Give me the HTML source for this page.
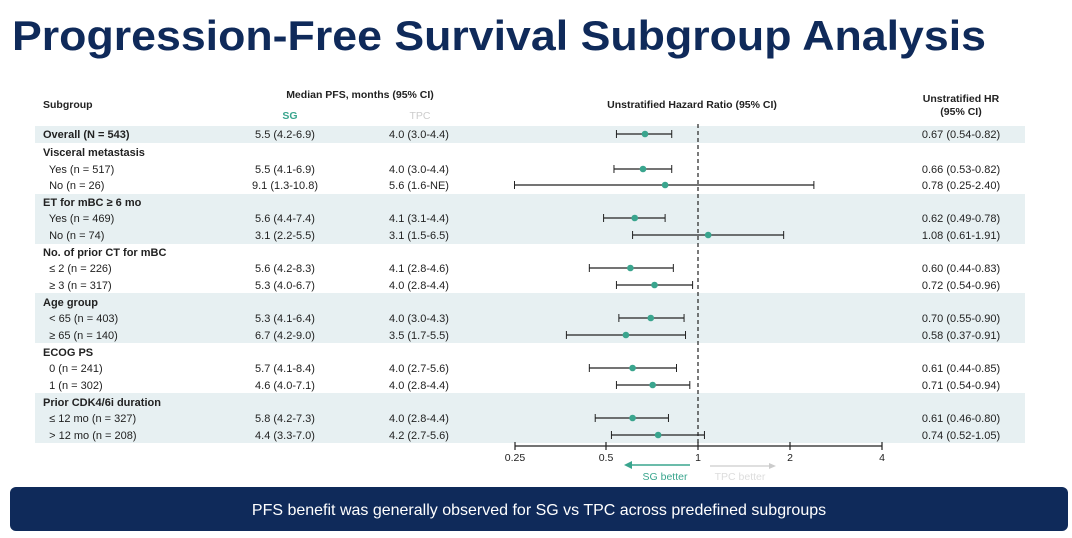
<!DOCTYPE html>
<html><head><meta charset="utf-8"><style>
body{margin:0;background:#fff;width:1072px;height:538px;overflow:hidden}
svg{display:block;font-family:"Liberation Sans",Arial,sans-serif}
</style></head><body>
<svg width="1072" height="538" viewBox="0 0 1072 538">
<text x="12" y="50" font-size="42" font-weight="bold" fill="#0f2a5a" textLength="974" lengthAdjust="spacingAndGlyphs">Progression-Free Survival Subgroup Analysis</text>
<g fill="#e7f0f2">
<rect x="35" y="126" width="990" height="17"/>
<rect x="35" y="194" width="990" height="50"/>
<rect x="35" y="293" width="990" height="50"/>
<rect x="35" y="393" width="990" height="50"/>
</g>
<g font-size="10.5" fill="#222">
<text x="43" y="108" font-weight="bold">Subgroup</text>
<text x="360" y="98" text-anchor="middle" font-weight="bold">Median PFS, months (95% CI)</text>
<text x="290" y="119" text-anchor="middle" font-weight="bold" fill="#3aa58e">SG</text>
<text x="420" y="119" text-anchor="middle" fill="#ccc">TPC</text>
<text x="692" y="108" text-anchor="middle" font-weight="bold">Unstratified Hazard Ratio (95% CI)</text>
<text x="961" y="102" text-anchor="middle" font-weight="bold">Unstratified HR</text>
<text x="961" y="115" text-anchor="middle" font-weight="bold">(95% CI)</text>
</g>
<g id="rows" font-size="11" fill="#222"></g>
<g id="plot"></g>
<g stroke="#222" stroke-width="1.2" fill="none">
<line x1="515" y1="446" x2="882" y2="446"/>
<line x1="515" y1="442" x2="515" y2="450"/>
<line x1="606" y1="442" x2="606" y2="450"/>
<line x1="698" y1="442" x2="698" y2="450"/>
<line x1="790" y1="442" x2="790" y2="450"/>
<line x1="882" y1="442" x2="882" y2="450"/>
<line x1="698" y1="124" x2="698" y2="446" stroke-dasharray="4,3"/>
</g>
<g font-size="10.5" fill="#222" text-anchor="middle">
<text x="515" y="461">0.25</text><text x="606" y="461">0.5</text><text x="698" y="461">1</text><text x="790" y="461">2</text><text x="882" y="461">4</text>
</g>
<line x1="690" y1="465" x2="630" y2="465" stroke="#3aa58e" stroke-width="1.5"/>
<polygon points="624,465 632,461 632,469" fill="#3aa58e"/>
<line x1="710" y1="466" x2="770" y2="466" stroke="#ccc" stroke-width="1.2"/>
<polygon points="776,466 769,463 769,469" fill="#ccc"/>
<text x="665" y="480" font-size="10.5" fill="#3aa58e" text-anchor="middle">SG better</text>
<text x="740" y="480" font-size="10.5" fill="#ddd" text-anchor="middle">TPC better</text>
<rect x="10" y="487" width="1058" height="44" rx="6" fill="#0f2a5a"/>
<text x="539" y="515" font-size="16" fill="#fff" text-anchor="middle">PFS benefit was generally observed for SG vs TPC across predefined subgroups</text>
</svg>
<script>
const rows=[
[134,"Overall (N = 543)",1,"5.5 (4.2-6.9)","4.0 (3.0-4.4)","0.67 (0.54-0.82)",0.67,0.54,0.82],
[152,"Visceral metastasis",1],
[169,"  Yes (n = 517)",0,"5.5 (4.1-6.9)","4.0 (3.0-4.4)","0.66 (0.53-0.82)",0.66,0.53,0.82],
[185,"  No (n = 26)",0,"9.1 (1.3-10.8)","5.6 (1.6-NE)","0.78 (0.25-2.40)",0.78,0.25,2.40],
[202,"ET for mBC ≥ 6 mo",1],
[218,"  Yes (n = 469)",0,"5.6 (4.4-7.4)","4.1 (3.1-4.4)","0.62 (0.49-0.78)",0.62,0.49,0.78],
[235,"  No (n = 74)",0,"3.1 (2.2-5.5)","3.1 (1.5-6.5)","1.08 (0.61-1.91)",1.08,0.61,1.91],
[252,"No. of prior CT for mBC",1],
[268,"  ≤ 2 (n = 226)",0,"5.6 (4.2-8.3)","4.1 (2.8-4.6)","0.60 (0.44-0.83)",0.60,0.44,0.83],
[285,"  ≥ 3 (n = 317)",0,"5.3 (4.0-6.7)","4.0 (2.8-4.4)","0.72 (0.54-0.96)",0.72,0.54,0.96],
[302,"Age group",1],
[318,"  < 65 (n = 403)",0,"5.3 (4.1-6.4)","4.0 (3.0-4.3)","0.70 (0.55-0.90)",0.70,0.55,0.90],
[335,"  ≥ 65 (n = 140)",0,"6.7 (4.2-9.0)","3.5 (1.7-5.5)","0.58 (0.37-0.91)",0.58,0.37,0.91],
[352,"ECOG PS",1],
[368,"  0 (n = 241)",0,"5.7 (4.1-8.4)","4.0 (2.7-5.6)","0.61 (0.44-0.85)",0.61,0.44,0.85],
[385,"  1 (n = 302)",0,"4.6 (4.0-7.1)","4.0 (2.8-4.4)","0.71 (0.54-0.94)",0.71,0.54,0.94],
[402,"Prior CDK4/6i duration",1],
[418,"  ≤ 12 mo (n = 327)",0,"5.8 (4.2-7.3)","4.0 (2.8-4.4)","0.61 (0.46-0.80)",0.61,0.46,0.80],
[435,"  > 12 mo (n = 208)",0,"4.4 (3.3-7.0)","4.2 (2.7-5.6)","0.74 (0.52-1.05)",0.74,0.52,1.05]];
const X=h=>698+91.75*Math.log2(h);
let t="",p="";
for(const r of rows){const y=r[0]+4;
t+=`<text x="43" y="${y}" ${r[2]?'font-weight="bold"':''} xml:space="preserve">${r[1]}</text>`;
if(r.length>3){t+=`<text x="285" y="${y}" text-anchor="middle">${r[3]}</text><text x="419" y="${y}" text-anchor="middle">${r[4]}</text><text x="961" y="${y}" text-anchor="middle">${r[5]}</text>`;
const a=X(r[7]),b=X(r[8]),c=X(r[6]),yy=r[0];
p+=`<line x1="${a}" y1="${yy}" x2="${b}" y2="${yy}" stroke="#222" stroke-width="1.2"/><line x1="${a}" y1="${yy-4}" x2="${a}" y2="${yy+4}" stroke="#222"/><line x1="${b}" y1="${yy-4}" x2="${b}" y2="${yy+4}" stroke="#222"/><circle cx="${c}" cy="${yy}" r="3.3" fill="#3aa58e"/>`;}}
document.getElementById("rows").innerHTML=t;document.getElementById("plot").innerHTML=p;
</script>
</body></html>
